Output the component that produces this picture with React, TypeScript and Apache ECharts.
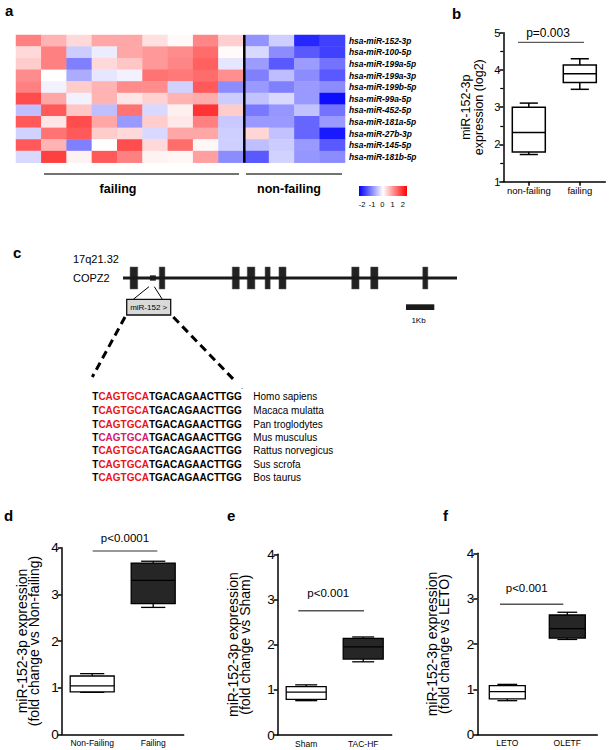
import React, { useEffect, useRef } from 'react';
import * as echarts from 'echarts';

const FONT = '"Liberation Sans", Arial, Helvetica, sans-serif';

// ---------- Panel a: heatmap ----------
const heatRows = [
  'hsa-miR-152-3p', 'hsa-miR-100-5p', 'hsa-miR-199a-5p', 'hsa-miR-199a-3p', 'hsa-miR-199b-5p',
  'hsa-miR-99a-5p', 'hsa-miR-452-5p', 'hsa-miR-181a-5p', 'hsa-miR-27b-3p', 'hsa-miR-145-5p', 'hsa-miR-181b-5p',
];
const heatCols = ['F1', 'F2', 'F3', 'F4', 'F5', 'F6', 'F7', 'F8', 'F9', 'NF1', 'NF2', 'NF3', 'NF4'];
const heatValues: number[][] = [
  [1.0, 0.6, 0.3, 0.7, 0.7, 0.25, 0.05, 0.95, 0.38, -0.85, -0.38, -1.7, -1.5],
  [0.3, 1.0, -0.4, -0.15, 0.7, 0.8, 0.9, 1.15, 0.03, -0.3, -0.9, -1.3, -1.5],
  [0.4, 1.0, -1.0, 0.3, 0.45, 0.8, 0.95, 1.25, -0.2, -0.78, -1.3, -0.78, -1.1],
  [0.9, 0.0, -0.65, -0.2, -0.1, 1.1, 1.05, 1.15, 0.88, -1.0, -0.52, -0.9, -1.3],
  [1.0, -0.1, 0.4, 0.6, 0.9, 0.9, -0.35, 1.3, -0.9, -0.8, -1.0, -0.8, -0.9],
  [1.4, 0.7, -0.1, 0.6, 0.2, 0.35, 0.6, 0.65, -0.4, -0.48, -0.3, -0.8, -1.9],
  [-0.5, 1.3, 0.45, -0.5, 1.1, -0.3, 0.12, 1.6, 0.4, -1.05, -0.82, -0.48, -1.1],
  [1.3, 0.2, 1.4, 0.7, -0.8, 0.4, 0.18, 1.0, -0.42, -0.8, -0.8, -1.2, -0.8],
  [-0.35, 1.1, 1.3, 0.4, 0.3, -0.3, 0.7, 0.7, -0.38, 0.32, -0.48, -1.2, -1.8],
  [1.3, 0.6, -1.0, 0.0, 1.4, 0.3, 1.15, 0.07, -0.38, -0.5, -0.4, -0.8, -1.3],
  [-0.3, 1.5, 0.1, 1.3, 1.0, 0.1, 0.07, 0.75, -0.9, -1.3, -0.35, -0.82, -0.9],
];
const colorbarTicks = ['-2', '-1', '0', '1', '2'];

// ---------- Panel b ----------
const bCategories = ['non-failing', 'failing'];
// [min, Q1, median, Q3, max]
const bBoxes = [
  [1.73, 1.8, 2.32, 3.0, 3.11],
  [3.48, 3.66, 3.9, 4.13, 4.3],
];

// ---------- Panel c ----------
const geneLengthKb = 11.8;
const exonsKb = [
  [0.25, 0.52], [1.28, 1.48], [3.86, 4.11], [4.39, 4.66], [5.02, 5.2],
  [5.51, 5.76], [8.08, 8.34], [8.75, 9.01], [10.59, 10.77],
];
const mirLocusKb = [[0.95, 1.16]];
const seqPrefix = 'T';
const seqSeed = 'CAGTGCA';
const seqRest = 'TGACAGAACTTGG';
const species = ['Homo sapiens', 'Macaca mulatta', 'Pan troglodytes', 'Mus musculus', 'Rattus norvegicus', 'Sus scrofa', 'Bos taurus'];
const seedColorKey = ['r', 'r', 'r', 'm', 'r', 'r', 'r'];

// ---------- Panels d, e, f ----------
const dCategories = ['Non-Failing', 'Failing'];
const dBoxes = [
  [0.9, 0.91, 1.04, 1.25, 1.3],
  [2.72, 2.8, 3.3, 3.67, 3.71],
];
const eCategories = ['Sham', 'TAC-HF'];
const eBoxes = [
  [0.76, 0.79, 0.95, 1.07, 1.11],
  [1.62, 1.68, 1.95, 2.14, 2.17],
];
const fCategories = ['LETO', 'OLETF'];
const fBoxes = [
  [0.75, 0.79, 0.95, 1.08, 1.11],
  [2.1, 2.13, 2.34, 2.64, 2.7],
];

function boxRenderer(boxW: number, fills: string[], lw: number) {
  return (params: any, api: any) => {
    const idx = api.value(0);
    const p = [1, 2, 3, 4, 5].map((k) => api.coord([idx, api.value(k)]));
    const cx = p[0][0];
    const yMin = p[0][1], yQ1 = p[1][1], yMed = p[2][1], yQ3 = p[3][1], yMax = p[4][1];
    const capW = boxW * 0.55;
    const st = { stroke: '#000', lineWidth: lw, fill: 'none' };
    return {
      type: 'group',
      children: [
        { type: 'line', shape: { x1: cx, y1: yMax, x2: cx, y2: yQ3 }, style: st },
        { type: 'line', shape: { x1: cx, y1: yQ1, x2: cx, y2: yMin }, style: st },
        { type: 'line', shape: { x1: cx - capW / 2, y1: yMax, x2: cx + capW / 2, y2: yMax }, style: st },
        { type: 'line', shape: { x1: cx - capW / 2, y1: yMin, x2: cx + capW / 2, y2: yMin }, style: st },
        {
          type: 'rect',
          shape: { x: cx - boxW / 2, y: yQ3, width: boxW, height: yQ1 - yQ3 },
          style: { stroke: '#000', lineWidth: lw, fill: fills[params.dataIndex] },
        },
        { type: 'line', shape: { x1: cx - boxW / 2, y1: yMed, x2: cx + boxW / 2, y2: yMed }, style: st },
      ],
    };
  };
}

function txt(text: string, x: number, y: number, size: number, o: any = {}) {
  const font = `${o.style || 'normal'} ${o.weight || 'normal'} ${size}px ${FONT}`;
  return {
    type: 'text',
    x,
    y,
    z: 100,
    silent: true,
    style: {
      text,
      font,
      fill: o.color || '#000',
      align: o.align || 'left',
      verticalAlign: 'middle',
      textAlign: o.align || 'left',
      textVerticalAlign: 'middle',
    },
  };
}

function ln(x1: number, y1: number, x2: number, y2: number, w: number, color = '#000', dash?: number[]) {
  return {
    type: 'line',
    z: 100,
    silent: true,
    shape: { x1, y1, x2, y2 },
    style: { stroke: color, lineWidth: w, lineDash: dash || null },
  };
}

function boxYAxis(grid: number, min: number, max: number, name: string, nameGap: number, fs: number, nfs: number, lh: number, minor: boolean) {
  return {
    type: 'value',
    gridIndex: grid,
    min,
    max,
    interval: 1,
    name,
    nameLocation: 'middle',
    nameRotate: 90,
    nameGap,
    nameTextStyle: { fontSize: nfs, lineHeight: lh, color: '#000', fontFamily: FONT },
    axisLine: { show: true, lineStyle: { color: '#000', width: 1.5 } },
    axisTick: { show: true, length: 4, lineStyle: { color: '#000', width: 1.5 } },
    minorTick: { show: minor, splitNumber: 2, length: 3, lineStyle: { color: '#000', width: 1.2 } },
    axisLabel: { fontSize: fs, color: '#000', margin: 3, fontFamily: FONT },
    splitLine: { show: false },
  };
}

function boxXAxis(grid: number, data: string[], fs: number, ticks: boolean) {
  return {
    type: 'category',
    gridIndex: grid,
    data,
    axisLine: { show: true, lineStyle: { color: '#000', width: 1.5 } },
    axisTick: { show: ticks, alignWithLabel: true, length: 4, lineStyle: { color: '#000', width: 1.5 } },
    axisLabel: { fontSize: fs, color: '#000', margin: 4, interval: 0, fontFamily: FONT },
    splitLine: { show: false },
  };
}

function boxSeries(xi: number, boxes: number[][], boxW: number, fills: string[], lw: number) {
  return {
    type: 'custom',
    xAxisIndex: xi,
    yAxisIndex: xi,
    silent: true,
    data: boxes.map((b, i) => [i, ...b]),
    encode: { x: 0, y: [1, 2, 3, 4, 5] },
    renderItem: boxRenderer(boxW, fills, lw),
  };
}

export default function App() {
  const ref = useRef<HTMLDivElement>(null);
  useEffect(() => {
    document.body.style.margin = '0';
    const chart = echarts.init(ref.current!, null, { renderer: 'svg' });

    const heatData: number[][] = [];
    heatValues.forEach((row, r) => row.forEach((v, c) => heatData.push([c, r, v])));

    const seqRowY = [396.7, 410.5, 424, 437.5, 450.8, 464, 477];
    const seqFont = `bold 10px ${FONT}`;

    const graphic: any[] = [
      // panel letters
      txt('a', 5, 10, 15, { weight: 'bold' }),
      txt('b', 452, 13, 15, { weight: 'bold' }),
      txt('c', 13, 252, 15, { weight: 'bold' }),
      txt('d', 4, 515, 15, { weight: 'bold' }),
      txt('e', 227, 515, 15, { weight: 'bold' }),
      txt('f', 443, 515, 15, { weight: 'bold' }),
      // heatmap separator and group bars
      ln(244.3, 35, 244.3, 162.7, 2.5, '#000'),
      ln(44, 174, 239, 174, 1.5, '#444'),
      ln(246, 174, 342, 174, 1.5, '#444'),
      txt('failing', 118, 189, 12.5, { weight: 'bold', align: 'center' }),
      txt('non-failing', 289, 189, 12.5, { weight: 'bold', align: 'center' }),
      // colour bar
      {
        type: 'rect',
        z: 100,
        silent: true,
        shape: { x: 359, y: 186, width: 48, height: 10 },
        style: {
          fill: new echarts.graphic.LinearGradient(0, 0, 1, 0, [
            { offset: 0, color: '#0000ff' },
            { offset: 0.5, color: '#ffffff' },
            { offset: 1, color: '#ff0000' },
          ]),
        },
      },
      ...colorbarTicks.map((t, i) => txt(t, 362 + i * 10.2, 204, 7.5, { align: 'center' })),
      // panel b significance
      ln(518, 42.3, 584, 42.3, 1, '#333'),
      txt('p=0.003', 548, 32.5, 12, { align: 'center' }),
      // panel c annotations
      txt('17q21.32', 73, 259, 11),
      txt('COPZ2', 73, 278, 11),
      ln(133.3, 299.3, 149, 286.7, 1, '#000'),
      ln(162.3, 299.3, 154.3, 286.7, 1, '#000'),
      {
        type: 'rect',
        z: 100,
        silent: true,
        shape: { x: 126.7, y: 299.3, width: 44, height: 15.7 },
        style: { fill: '#d9d9d9', stroke: '#111', lineWidth: 1.3 },
      },
      txt('miR-152 >', 148.7, 307.3, 8, { align: 'center' }),
      {
        type: 'rect',
        z: 100,
        silent: true,
        shape: { x: 406, y: 304.3, width: 28.3, height: 5.7 },
        style: { fill: '#1a1a1a' },
      },
      txt('1Kb', 418.5, 320, 8, { align: 'center' }),
      ln(125, 317, 92.3, 377, 3, '#000', [8, 5]),
      ln(173.3, 317, 236, 382, 3, '#000', [8, 5]),
      txt('´', 241, 390, 8),
      ...seqRowY.map((y, i) => ({
        type: 'text',
        x: 92.3,
        y,
        z: 100,
        silent: true,
        style: {
          text: `{k|${seqPrefix}}{${seedColorKey[i]}|${seqSeed}}{k|${seqRest}}`,
          font: seqFont,
          verticalAlign: 'middle',
          textVerticalAlign: 'middle',
          rich: {
            k: { fill: '#000', font: seqFont },
            r: { fill: '#e8141c', font: seqFont },
            m: { fill: '#d0206e', font: seqFont },
          },
        },
      })),
      ...species.map((s, i) => txt(s, 253.3, seqRowY[i], 10)),
      // panels d, e, f significance
      ln(92.7, 551, 157.3, 551, 1.2, '#333'),
      txt('p<0.0001', 125, 538, 11.5, { align: 'center' }),
      ln(298.3, 610.7, 364, 610.7, 1.5, '#555'),
      txt('p<0.001', 328.3, 593.3, 11.5, { align: 'center' }),
      ln(500, 604.3, 563.3, 604.3, 1.5, '#555'),
      txt('p<0.001', 526.7, 588.3, 11.5, { align: 'center' }),
    ];

    const option: any = {
      animation: false,
      textStyle: { fontFamily: FONT },
      grid: [
        { left: 16, top: 35, width: 329, height: 127.7 },
        { left: 503.3, top: 32.7, width: 102, height: 149 },
        { left: 123, top: 267, width: 334, height: 22 },
        { left: 61.7, top: 547.7, width: 122, height: 186.6 },
        { left: 277.7, top: 554.3, width: 114, height: 180.7 },
        { left: 477.3, top: 553.3, width: 120, height: 181.4 },
      ],
      xAxis: [
        { type: 'category', gridIndex: 0, data: heatCols, show: false },
        boxXAxis(1, bCategories, 9.5, true),
        { type: 'value', gridIndex: 2, min: 0, max: geneLengthKb, show: false },
        boxXAxis(3, dCategories, 8.5, false),
        boxXAxis(4, eCategories, 8.5, false),
        boxXAxis(5, fCategories, 8.5, false),
      ],
      yAxis: [
        {
          type: 'category',
          gridIndex: 0,
          data: heatRows,
          inverse: true,
          position: 'right',
          axisLine: { show: false },
          axisTick: { show: false },
          axisLabel: { fontSize: 8.4, fontWeight: 'bold', fontStyle: 'italic', color: '#000', margin: 4, fontFamily: FONT },
        },
        boxYAxis(1, 1, 5, 'miR-152-3p\nexpression (log2)', 18, 11, 12.5, 13, true),
        { type: 'value', gridIndex: 2, min: 0, max: 1, show: false },
        boxYAxis(3, 0, 4, 'miR-152-3p expression\n(fold change vs Non-failing)', 21, 13.5, 14, 12.5, false),
        boxYAxis(4, 0, 4, 'miR-152-3p expression\n(fold change vs Sham)', 26, 13.5, 14, 12.5, false),
        boxYAxis(5, 0, 4, 'miR-152-3p expression\n(fold change vs LETO)', 27, 13.5, 14, 12.5, false),
      ],
      visualMap: {
        type: 'continuous',
        min: -2,
        max: 2,
        show: false,
        seriesIndex: 0,
        inRange: { color: ['#0000ff', '#ffffff', '#ff0000'] },
      },
      series: [
        {
          type: 'heatmap',
          xAxisIndex: 0,
          yAxisIndex: 0,
          data: heatData,
          silent: true,
          itemStyle: { borderWidth: 0 },
        },
        boxSeries(1, bBoxes, 33, ['#fff', '#fff'], 1.5),
        {
          type: 'line',
          xAxisIndex: 2,
          yAxisIndex: 2,
          silent: true,
          symbol: 'none',
          data: [[0, 0.5], [geneLengthKb, 0.5]],
          lineStyle: { color: '#1a1a1a', width: 3 },
        },
        {
          type: 'custom',
          xAxisIndex: 2,
          yAxisIndex: 2,
          silent: true,
          data: exonsKb,
          encode: { x: [0, 1] },
          renderItem: (params: any, api: any) => {
            const a = api.coord([api.value(0), 1]);
            const b = api.coord([api.value(1), 0]);
            return {
              type: 'rect',
              shape: { x: a[0], y: a[1], width: b[0] - a[0], height: b[1] - a[1] },
              style: { fill: '#222', stroke: '#555', lineWidth: 0.5 },
            };
          },
        },
        {
          type: 'custom',
          xAxisIndex: 2,
          yAxisIndex: 2,
          silent: true,
          data: mirLocusKb,
          encode: { x: [0, 1] },
          renderItem: (params: any, api: any) => {
            const a = api.coord([api.value(0), 0.62]);
            const b = api.coord([api.value(1), 0.38]);
            return {
              type: 'rect',
              shape: { x: a[0], y: a[1], width: b[0] - a[0], height: b[1] - a[1] },
              style: { fill: '#222' },
            };
          },
        },
        boxSeries(3, dBoxes, 44, ['#fff', '#262626'], 1.3),
        boxSeries(4, eBoxes, 40, ['#fff', '#262626'], 1.3),
        boxSeries(5, fBoxes, 36, ['#fff', '#262626'], 1.3),
      ],
      graphic,
    };
    chart.setOption(option);
    return () => chart.dispose();
  }, []);
  return <div ref={ref} style={{ position: 'absolute', left: 0, top: 0, width: 611, height: 750 }} />;
}
